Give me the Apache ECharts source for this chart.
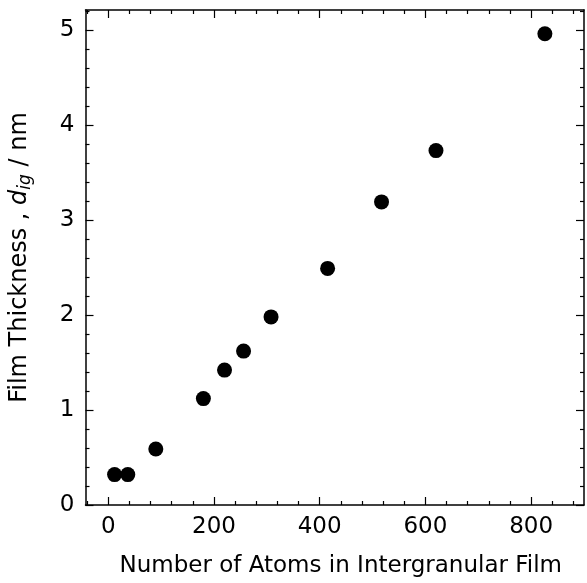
<!DOCTYPE html>
<html>

<head>
    <meta charset='utf-8'>
    <title>Film Thickness</title>
    <script src='https://cdn.jsdelivr.net/npm/echarts@6/dist/echarts.min.js'></script>
    <style>
        html, body { margin: 0; padding: 0; background: #fff; }
        #chart { width: 587px; height: 583px; }
    </style>
</head>

<body>
    <div id='chart'></div>

    <script type='text/javascript'>
        // data
        const atoms = [12, 37, 90, 180, 220, 256, 308, 415, 517, 620, 826]
        const thickness = [0.32, 0.32, 0.59, 1.12, 1.42, 1.62, 1.98, 2.49, 3.19, 3.73, 4.96]

        const xMajor = [0, 200, 400, 600, 800]
        const xMinor = [-40, 40, 80, 120, 160, 240, 280, 320, 360, 440, 480, 520, 560, 640, 680, 720, 760, 840, 880]
        const yMajor = [0, 1, 2, 3, 4, 5]
        const yMinor = [0.2, 0.4, 0.6, 0.8, 1.2, 1.4, 1.6, 1.8, 2.2, 2.4, 2.6, 2.8, 3.2, 3.4, 3.6, 3.8, 4.2, 4.4, 4.6, 4.8, 5.2]

        const xMin = -43, xMax = 900
        const yMin = 0, yMax = 5.21
        const font = 'DejaVu Sans'

        const xAx = (pos, ticks, len, showLine, showLabel) => ({
            type: 'value', position: pos, min: xMin, max: xMax,
            axisLine: { show: showLine, onZero: false, lineStyle: { color: '#000', width: 1.5 } },
            axisTick: { show: true, inside: true, length: len, customValues: ticks, lineStyle: { color: '#000', width: 1.2 } },
            axisLabel: { show: showLabel, customValues: ticks, margin: 11, color: '#000', fontFamily: font, fontSize: 23 },
            splitLine: { show: false }
        })
        const yAx = (pos, ticks, len, showLine, showLabel) => ({
            type: 'value', position: pos, min: yMin, max: yMax,
            axisLine: { show: showLine, onZero: false, lineStyle: { color: '#000', width: 1.5 } },
            axisTick: { show: true, inside: true, length: len, customValues: ticks, lineStyle: { color: '#000', width: 1.2 } },
            axisLabel: { show: showLabel, customValues: ticks, margin: 11, color: '#000', fontFamily: font, fontSize: 23 },
            splitLine: { show: false }
        })

        const xBottom = xAx('bottom', xMajor, 8, true, true)
        xBottom.name = 'Number of Atoms in Intergranular Film'
        xBottom.nameLocation = 'middle'
        xBottom.nameGap = 50
        xBottom.nameTextStyle = { color: '#000', fontFamily: font, fontSize: 23, padding: [0, 0, 0, 12] }

        const yLeft = yAx('left', yMajor, 8, true, true)
        yLeft.name = '{n|Film Thickness , }{i|d}{s|ig}{n| / nm}'
        yLeft.nameLocation = 'middle'
        yLeft.nameGap = 51
        yLeft.nameTextStyle = {
            color: '#000', fontFamily: font, fontSize: 24,
            rich: {
                n: { fontFamily: font, fontSize: 24, color: '#000' },
                i: { fontFamily: font, fontSize: 24, fontStyle: 'italic', color: '#000' },
                s: { fontFamily: font, fontSize: 17, fontStyle: 'italic', color: '#000', padding: [12, 0, 0, 0] }
            }
        }

        const chart = echarts.init(document.getElementById('chart'))
        const option = {
            animation: false,
            grid: { left: 84, right: 3, top: 10, bottom: 78, containLabel: false },
            xAxis: [
                xBottom,
                xAx('bottom', xMinor, 4, false, false),
                xAx('top', xMajor, 8, true, false),
                xAx('top', xMinor, 4, false, false)
            ],
            yAxis: [
                yLeft,
                yAx('left', yMinor, 4, false, false),
                yAx('right', yMajor, 8, true, false),
                yAx('right', yMinor, 4, false, false)
            ],
            series: [{
                type: 'scatter',
                xAxisIndex: 0,
                yAxisIndex: 0,
                symbol: 'circle',
                symbolSize: 15,
                itemStyle: { color: '#000', opacity: 1 },
                data: atoms.map((a, i) => [a, thickness[i]])
            }]
        }
        chart.setOption(option)
    </script>
</body>

</html>
